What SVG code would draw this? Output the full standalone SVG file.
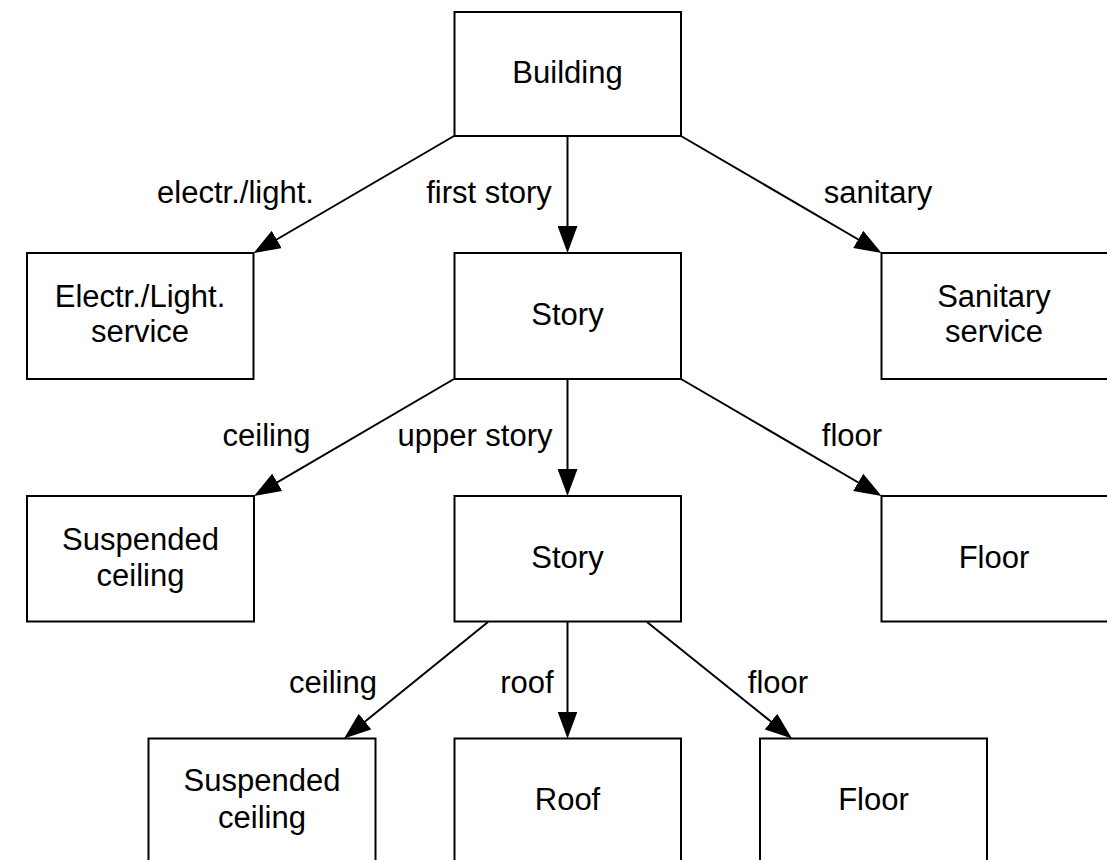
<svg xmlns="http://www.w3.org/2000/svg" width="1107" height="860" viewBox="0 0 1107 860">
<style>
.box{fill:#fff;stroke:#000;stroke-width:2}
.t{font-family:"Liberation Sans",Arial,Helvetica,sans-serif;font-size:31px;fill:#000;text-anchor:middle}
.e{fill:none;stroke:#000;stroke-width:2}
</style>
<defs>
<marker id="ah" markerUnits="userSpaceOnUse" markerWidth="27" markerHeight="20" refX="17" refY="10" orient="auto">
<path d="M0,0 L27,10 L0,20 z" fill="#000"/>
</marker>
</defs>
<rect width="1107" height="860" fill="#fff"/>
<g id="connectors">
<path class="e" d="M454,136 L262.1,248" marker-end="url(#ah)"/>
<path class="e" d="M567.5,136 L567.5,243" marker-end="url(#ah)"/>
<path class="e" d="M681,136 L872.9,248" marker-end="url(#ah)"/>
<path class="e" d="M454,379 L262.6,490.9" marker-end="url(#ah)"/>
<path class="e" d="M567.5,379 L567.5,486" marker-end="url(#ah)"/>
<path class="e" d="M681,379 L872.9,491" marker-end="url(#ah)"/>
<path class="e" d="M488,622 L351.8,732.2" marker-end="url(#ah)"/>
<path class="e" d="M567.5,622 L567.5,728.5" marker-end="url(#ah)"/>
<path class="e" d="M647,622 L784.2,732.2" marker-end="url(#ah)"/>
<text class="t" x="235.5" y="203">electr./light.</text>
<text class="t" x="489" y="203">first story</text>
<text class="t" x="878" y="203">sanitary</text>
<text class="t" x="266.5" y="446">ceiling</text>
<text class="t" x="475" y="446">upper story</text>
<text class="t" x="852" y="445.5">floor</text>
<text class="t" x="333" y="693">ceiling</text>
<text class="t" x="527" y="693">roof</text>
<text class="t" x="778" y="693">floor</text>
</g>
<g id="building"><rect class="box" x="454.5" y="12" width="226.5" height="124"/><text class="t" x="567.5" y="82.5">Building</text></g>
<g id="electr"><rect class="box" x="27" y="253" width="226.5" height="126"/><text class="t" x="140" y="306.5">Electr./Light.</text><text class="t" x="140" y="342">service</text></g>
<g id="story1"><rect class="box" x="454.5" y="253" width="226.5" height="126"/><text class="t" x="567.5" y="324.5">Story</text></g>
<g id="sanitary"><rect class="box" x="881.5" y="253" width="227" height="126"/><text class="t" x="994" y="306.5">Sanitary</text><text class="t" x="994" y="342">service</text></g>
<g id="susp1"><rect class="box" x="27" y="496" width="227" height="125.5"/><text class="t" x="140.5" y="549.5">Suspended</text><text class="t" x="140.5" y="585.5">ceiling</text></g>
<g id="story2"><rect class="box" x="454.5" y="496" width="226.5" height="125.5"/><text class="t" x="567.5" y="567.5">Story</text></g>
<g id="floor1"><rect class="box" x="881.5" y="496" width="227" height="125.5"/><text class="t" x="994" y="567.5">Floor</text></g>
<g id="susp2"><rect class="box" x="148.5" y="738.5" width="227" height="125"/><text class="t" x="262" y="791">Suspended</text><text class="t" x="262" y="828">ceiling</text></g>
<g id="roof"><rect class="box" x="454.5" y="738.5" width="226.5" height="125"/><text class="t" x="567.5" y="810">Roof</text></g>
<g id="floor2"><rect class="box" x="760" y="738.5" width="227" height="125"/><text class="t" x="873.5" y="810">Floor</text></g>
</svg>
